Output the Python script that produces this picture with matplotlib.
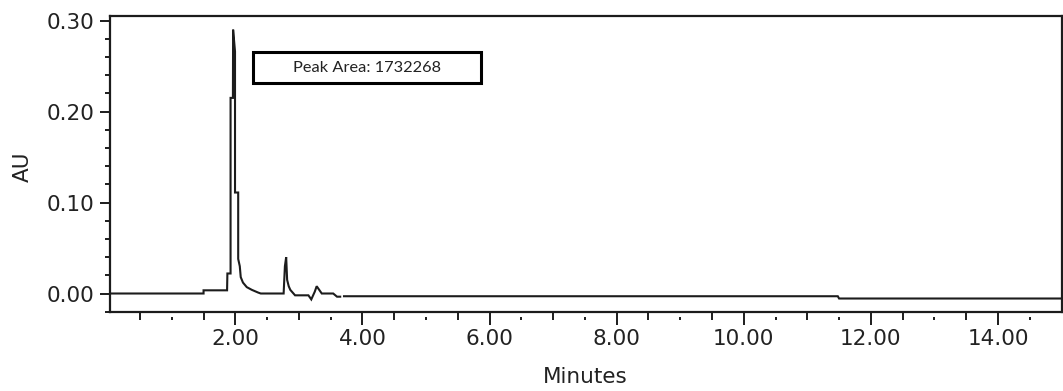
import numpy as np
import matplotlib
matplotlib.use("Agg")
import matplotlib.pyplot as plt
from matplotlib.patches import Rectangle

# ---- data ----
time_min = [0.00, 1.50, 1.50, 1.87, 1.875, 1.925, 1.925, 1.962, 1.965, 1.995, 1.995,
            2.045, 2.045, 2.07, 2.085, 2.12, 2.18, 2.26, 2.36, 2.40,
            2.76, 2.78, 2.80, 2.815, 2.84, 2.865, 2.94,
            3.15, 3.195, 3.25, 3.28, 3.36, 3.54, 3.60, 3.65,
            3.68,
            3.71, 11.48, 11.50, 15.0]
absorb_au = [0.000, 0.000, 0.0035, 0.0035, 0.022, 0.022, 0.215, 0.215, 0.290, 0.266, 0.111,
             0.111, 0.038, 0.030, 0.018, 0.012, 0.007, 0.004, 0.001, 0.000,
             0.000, 0.030, 0.040, 0.015, 0.008, 0.004, -0.002,
             -0.002, -0.0065, 0.002, 0.008, 0.000, 0.000, -0.0035, -0.0035,
             np.nan,
             -0.003, -0.003, -0.0055, -0.0055]

x_major = [2, 4, 6, 8, 10, 12, 14]
x_medium = [0.5, 1.5, 3.0, 4.5, 5.5, 7.0, 8.5, 9.5, 11.0, 12.5, 13.5]
x_dots = [1.0, 2.5, 3.5, 5.0, 6.5, 7.5, 9.0, 10.5, 11.5, 13.0, 14.5]
y_major = [0.00, 0.10, 0.20, 0.30]
y_minor = [-0.02, 0.02, 0.04, 0.06, 0.08, 0.12, 0.14, 0.16, 0.18, 0.22, 0.24, 0.26, 0.28]
annotation = "Peak Area: 1732268"

INK = "#1c1c1c"
W, H = 1063, 391
fig = plt.figure(figsize=(W / 100, H / 100), dpi=100)
L, R, T, B = 109.5, 1061.5, 16.0, 311.7
ax = fig.add_axes([L / W, 1 - B / H, (R - L) / W, (B - T) / H])

ax.plot(time_min, absorb_au, color=INK, lw=1.5, solid_joinstyle="miter")
ax.set_xlim(0.02, 15.0)
ax.set_ylim(-0.02, 0.305)

for s in ax.spines.values():
    s.set_linewidth(1.6)
    s.set_color(INK)

ax.set_xticks(x_major)
ax.set_xticklabels([f"{v:.2f}" for v in x_major])
ax.set_xticks(x_medium, minor=True)
ax.set_yticks(y_major)
ax.set_yticklabels([f"{v:.2f}" for v in y_major])
ax.set_yticks(y_minor, minor=True)

font = dict(family="DejaVu Sans", size=15.5, color="#222222")
ax.tick_params(axis="x", which="major", direction="out", length=9, width=1.4,
               color=INK, pad=3.5, labelsize=15.5, labelcolor="#222222")
ax.tick_params(axis="x", which="minor", direction="out", length=6, width=1.4, color=INK)
ax.tick_params(axis="y", which="major", direction="out", length=7.2, width=1.4,
               color=INK, pad=3.5, labelsize=15.5, labelcolor="#222222")
ax.tick_params(axis="y", which="minor", direction="out", length=3.6, width=1.4, color=INK)
for lab in ax.get_xticklabels() + ax.get_yticklabels():
    lab.set_family("DejaVu Sans")

# small detached "dot" ticks
sec = ax.secondary_xaxis(-5.0 / (B - T))
sec.set_xticks(x_dots)
sec.set_xticklabels([])
sec.tick_params(axis="x", which="major", direction="out", length=2.4, width=1.4, color=INK)
sec.tick_params(axis="x", which="minor", length=0)
for s in sec.spines.values():
    s.set_visible(False)

ax.set_xlabel("Minutes", fontdict=font)
ax.xaxis.label.set_va("center")
ax.xaxis.set_label_coords((585 - L) / (R - L), -(377 - B) / (B - T))
ax.set_ylabel("AU", fontdict=font)
ax.yaxis.label.set_va("center")
ax.yaxis.set_label_coords((23 - L) / (R - L), 0.49)

# annotation box
bx0, bx1, by0, by1 = 253, 481, 52, 83
ax.add_patch(Rectangle(((bx0 - L) / (R - L), (B - by1) / (B - T)),
                       (bx1 - bx0) / (R - L), (by1 - by0) / (B - T),
                       transform=ax.transAxes, fill=True, facecolor="white",
                       edgecolor="black", lw=2.2, zorder=5))
ax.text(((bx0 + bx1) / 2 - L) / (R - L), (B - (by0 + by1) / 2) / (B - T), annotation,
        transform=ax.transAxes, ha="center", va="center", family="Lato",
        fontsize=11.8, color="#222222", zorder=6)

fig.savefig("out.png", dpi=100)
